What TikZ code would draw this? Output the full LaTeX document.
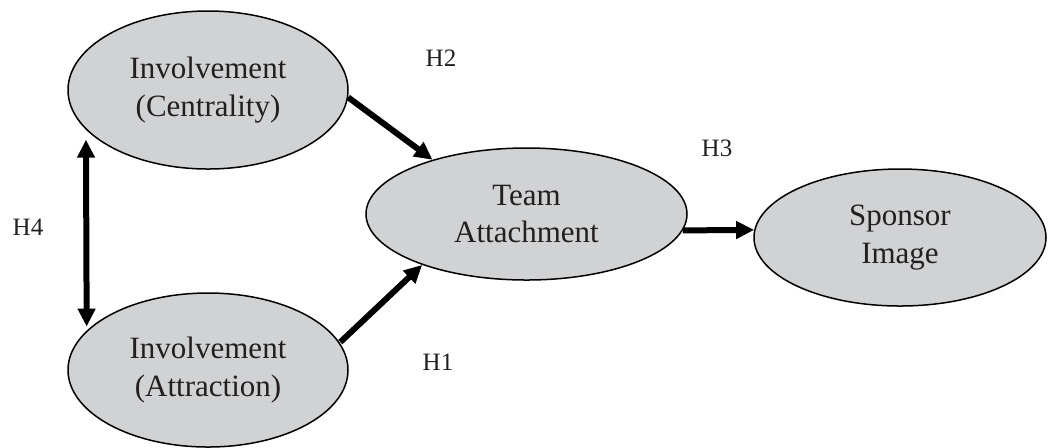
\documentclass[tikz,border=0pt]{standalone}
\usepackage{fontspec}
\setmainfont{Liberation Serif}
\usetikzlibrary{arrows.meta,shapes.geometric}
\definecolor{ellfill}{RGB}{209,210,212}
\definecolor{ink}{RGB}{35,31,32}
\tikzset{
  construct/.style={ellipse, draw=black, line width=0.75pt, fill=ellfill, inner sep=0pt,
    align=center, text=ink, font=\fontsize{15.5pt}{18.8pt}\selectfont},
  hlabel/.style={text=ink, font=\fontsize{12.5pt}{14pt}\selectfont, inner sep=0pt},
  path arrow/.style={line width=3pt, -{Triangle[length=9pt,width=8.5pt]}},
  both arrow/.style={line width=3pt, {Triangle[length=9pt,width=8.5pt]}-{Triangle[length=9pt,width=8.5pt]}}
}
\begin{document}
\begin{tikzpicture}[x=0.5pt,y=-0.5pt]
\useasboundingbox (0,0) rectangle (1048,447);
\node[construct, minimum width=140pt, minimum height=79pt] (cen) at (208,90) {Involvement\\(Centrality)};
\node[construct, minimum width=140pt, minimum height=77pt] (att) at (208,370) {Involvement\\(Attraction)};
\node[construct, minimum width=160.5pt, minimum height=66pt] (team) at (526.5,214) {Team\\Attachment};
\node[construct, minimum width=146pt, minimum height=68.5pt] (spon) at (900,237.5) {Sponsor\\Image};
\node[hlabel] (h2) at (441,58) {H2};
\node[hlabel] (h3) at (717,148) {H3};
\node[hlabel] (h4) at (28,227) {H4};
\node[hlabel] (h1) at (438,362) {H1};
\draw[path arrow] (cen.-3) -- (team.150);
\draw[path arrow] ([shift={(1,0)}]att.12) -- (team.206);
\draw[path arrow] (team.-6) -- (spon.177);
\draw[both arrow, shorten <=5pt, shorten >=2pt] (cen.198) -- (att.162);
\end{tikzpicture}
\end{document}
